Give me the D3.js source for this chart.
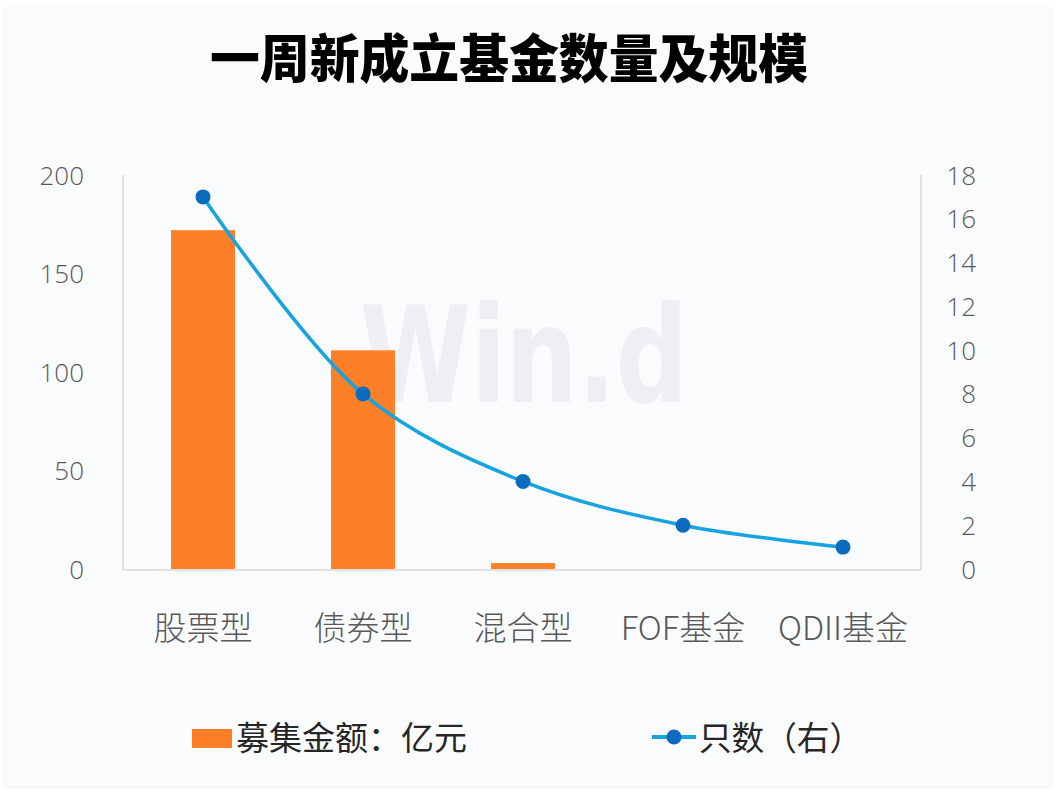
<!DOCTYPE html>
<html><head><meta charset="utf-8">
<script src="https://cdn.jsdelivr.net/npm/d3@7/dist/d3.min.js"></script>
<style>
html,body{margin:0;padding:0;background:#fff;}
svg{display:block;}
</style></head>
<body><svg id="c" width="1056" height="796"></svg>
<script>
const categories = ["股票型","债券型","混合型","FOF基金","QDII基金"];
const amounts = [172, 111, 3, 0, 0];      // 募集金额：亿元
const counts = [17, 8, 4, 2, 1];          // 只数（右）
const leftTicks = [0,50,100,150,200];
const rightTicks = [0,2,4,6,8,10,12,14,16,18];
const title = "一周新成立基金数量及规模";
const legendBar = "募集金额：亿元";
const legendLine = "只数（右）";

const svg = d3.select("#c");
const cjk = "'Noto Sans CJK SC','Noto Sans',sans-serif";
const num = "'Open Sans','Noto Sans',sans-serif";

const defs = svg.append("defs");
const f = defs.append("filter").attr("id","sh").attr("x","-5%").attr("y","-5%").attr("width","110%").attr("height","110%");
f.append("feDropShadow").attr("dx",0).attr("dy",1).attr("stdDeviation",2).attr("flood-color","#000").attr("flood-opacity",0.08);
svg.append("rect").attr("x",5).attr("y",7).attr("width",1046).attr("height",779).attr("fill","#fafbfc").attr("filter","url(#sh)");

const L = 123, R = 923, T = 175, B = 569;
const x = d3.scaleBand().domain(categories).range([L,R]).paddingInner(0.6).paddingOuter(0.3);
const xc = d => x(d) + x.bandwidth()/2;
const yL = d3.scaleLinear().domain([0,200]).range([B,T]);
const yR = d3.scaleLinear().domain([0,18]).range([B,T]);

// watermark
svg.append("text").attr("x",524).attr("y",402).attr("text-anchor","middle")
  .attr("font-family","'DejaVu Sans',sans-serif").attr("font-weight","bold").attr("font-size",134)
  .attr("textLength",328).attr("lengthAdjust","spacingAndGlyphs")
  .attr("fill","#eeeff2").text("Win.d");

// title
svg.append("text").attr("x",509).attr("y",78).attr("text-anchor","middle")
  .attr("font-family",cjk).attr("font-weight",900).attr("font-size",52).attr("fill","#000")
  .attr("textLength",598).attr("lengthAdjust","spacingAndGlyphs").text(title);

// axes lines
const axisCol = "#d9d9d9";
svg.append("line").attr("x1",L).attr("x2",L).attr("y1",T).attr("y2",B+1).attr("stroke",axisCol).attr("stroke-width",1.5);
svg.append("line").attr("x1",R-2).attr("x2",R-2).attr("y1",T).attr("y2",B+1).attr("stroke",axisCol).attr("stroke-width",1.5);
svg.append("line").attr("x1",L).attr("x2",R-2).attr("y1",B+1).attr("y2",B+1).attr("stroke",axisCol).attr("stroke-width",1.5);

// left axis
const gl = svg.append("g").attr("transform",`translate(${L},0)`)
  .call(d3.axisLeft(yL).tickValues(leftTicks).tickSize(0).tickPadding(39));
gl.select(".domain").remove();
gl.selectAll("text").attr("font-family",num).attr("font-weight",300).attr("font-size",26).attr("fill","#595959").attr("dy","0.35em");

// right axis
const gr = svg.append("g").attr("transform",`translate(${R},0)`)
  .call(d3.axisRight(yR).tickValues(rightTicks).tickSize(0).tickPadding(0));
gr.select(".domain").remove();
gr.selectAll("text").attr("font-family",num).attr("font-weight",300).attr("font-size",26).attr("fill","#595959")
  .attr("text-anchor","end").attr("x",53).attr("dy","0.35em");

// x axis labels
const gx = svg.append("g").attr("transform",`translate(0,${B})`)
  .call(d3.axisBottom(x).tickSize(0).tickPadding(0));
gx.select(".domain").remove();
gx.selectAll("text").attr("font-family",cjk).attr("font-weight",300).attr("font-size",33).attr("fill","#595959")
  .attr("y",71).attr("dy",0);

// bars
svg.append("g").selectAll("rect").data(amounts).join("rect")
  .attr("x",(d,i)=>x(categories[i])).attr("width",x.bandwidth())
  .attr("y",d=>yL(d)).attr("height",d=>B-yL(d)).attr("fill","#fd7f28");

// line
const line = d3.line().x((d,i)=>xc(categories[i])).y(d=>yR(d)).curve(d3.curveCatmullRom.alpha(0.5));
svg.append("path").datum(counts).attr("d",line).attr("fill","none").attr("stroke","#16a3df").attr("stroke-width",3.5);
svg.append("g").selectAll("circle").data(counts).join("circle")
  .attr("cx",(d,i)=>xc(categories[i])).attr("cy",d=>yR(d)).attr("r",7.5).attr("fill","#0a6bbf");

// legend
svg.append("rect").attr("x",192).attr("y",729).attr("width",40).attr("height",19).attr("fill","#fd7f28");
svg.append("text").attr("x",236).attr("y",750).attr("font-family",cjk).attr("font-size",33).attr("fill","#262626")
  .attr("textLength",231).attr("lengthAdjust","spacingAndGlyphs").text(legendBar);
svg.append("line").attr("x1",652).attr("x2",696).attr("y1",737).attr("y2",737).attr("stroke","#16a3df").attr("stroke-width",4);
svg.append("circle").attr("cx",674).attr("cy",737).attr("r",7.5).attr("fill","#0a6bbf");
svg.append("text").attr("x",699).attr("y",750).attr("font-family",cjk).attr("font-size",33).attr("fill","#262626")
  .attr("textLength",163).attr("lengthAdjust","spacingAndGlyphs").text(legendLine);
</script></body></html>
